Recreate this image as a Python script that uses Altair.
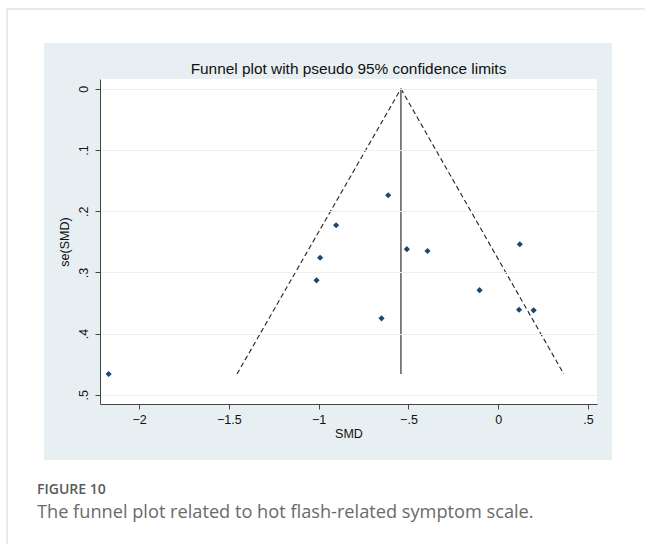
import altair as alt
import pandas as pd

# --- data ---
smd = [-2.170, -0.613, -0.903, -0.992, -1.012, -0.650, -0.509, -0.394, -0.104, 0.120, 0.116, 0.197]
se = [0.466, 0.174, 0.223, 0.276, 0.313, 0.375, 0.262, 0.265, 0.329, 0.254, 0.361, 0.362]

pooled = -0.542
se_max = 0.466
funnel_side = ["L", "L", "R", "R"]
funnel_x = [pooled, -1.455, pooled, 0.365]
funnel_y = [0.0, se_max, 0.0, se_max]

x_ticks = [-2, -1.5, -1, -0.5, 0, 0.5]
y_ticks = [0, 0.1, 0.2, 0.3, 0.4, 0.5]

title_text = "Funnel plot with pseudo 95% confidence limits"
fig_label = "FIGURE 10"
caption = "The funnel plot related to hot flash-related symptom scale."

pts = pd.DataFrame({"smd": smd, "se": se})
fun = pd.DataFrame({"side": funnel_side, "smd": funnel_x, "se": funnel_y})
vline = pd.DataFrame({"smd": [pooled], "se": [0.0], "se2": [se_max]})

W, H = 497, 325
fmt = "datum.value == 0 ? '0' : replace(format(datum.value, '.1~f'), '0.', '.')"

xs = alt.Scale(domain=[-2.218, 0.550], nice=False, zero=False)
ys = alt.Scale(domain=[-0.016, 0.515], nice=False, zero=False, reverse=True)

one = alt.Data(values=[{"a": 1}])
font = "Liberation Sans"

panel = alt.Chart(one).mark_rect(color="#e8eff2").encode(
    x=alt.value(-56), x2=alt.value(512), y=alt.value(-36), y2=alt.value(381))
white = alt.Chart(one).mark_rect(color="white").encode(
    x=alt.value(0), x2=alt.value(W), y=alt.value(0), y2=alt.value(H))
top_border = alt.Chart(one).mark_rule(color="#d4d4d4", strokeWidth=1).encode(
    x=alt.value(-93), x2=alt.value(548), y=alt.value(-70))
left_border = alt.Chart(one).mark_rule(color="#d4d4d4", strokeWidth=1).encode(
    x=alt.value(-93), y=alt.value(-70), y2=alt.value(470))
title = alt.Chart(one).mark_text(
    text=title_text, align="center", baseline="alphabetic", font=font,
    fontSize=15.4, color="#111111").encode(
    x=alt.value(W / 2), y=alt.value(-5))
cap1 = alt.Chart(one).mark_text(
    text=fig_label, align="left", baseline="alphabetic", font="Open Sans",
    fontSize=14, fontWeight=600, color="#5a5a5a").encode(
    x=alt.value(-63), y=alt.value(415))
cap2 = alt.Chart(one).mark_text(
    text=caption, align="left",
    baseline="alphabetic", font="Open Sans", fontSize=18.2, color="#6a6a6a").encode(
    x=alt.value(-63), y=alt.value(439))

axis_common = dict(zindex=1, domainColor="#444444", tickColor="#444444", tickSize=5,
                   labelFont=font, labelFontSize=12.5, labelColor="#111111",
                   titleFont=font, titleFontSize=12.5, titleFontWeight="normal",
                   titleColor="#111111")

funnel = alt.Chart(fun).mark_line(color="#222222", strokeDash=[5, 3], strokeWidth=1.1).encode(
    x=alt.X("smd:Q", scale=xs,
            axis=alt.Axis(values=x_ticks, labelExpr=fmt, title="SMD", grid=False,
                          labelPadding=4, titlePadding=2, **axis_common)),
    y=alt.Y("se:Q", scale=ys,
            axis=alt.Axis(values=y_ticks, labelExpr=fmt, title="se(SMD)", grid=True,
                          gridColor="#eaf1f3", gridWidth=1,
                          labelAngle=270, labelAlign="center", labelBaseline="bottom",
                          labelPadding=5, titlePadding=6, **axis_common)),
    detail="side:N")

vrule = alt.Chart(vline).mark_rule(color="#5a5a5a", strokeWidth=1.5).encode(
    x=alt.X("smd:Q", scale=xs), y=alt.Y("se:Q", scale=ys), y2="se2:Q")

points = alt.Chart(pts).mark_point(shape="diamond", filled=True, size=38,
                                   color="#1a476f", opacity=1).encode(
    x=alt.X("smd:Q", scale=xs), y=alt.Y("se:Q", scale=ys))

chart = alt.layer(panel, white, top_border, left_border, title, cap1, cap2,
                  funnel, vrule, points).properties(
    width=W, height=H,
    autosize=alt.AutoSizeParams(type="none"),
    padding={"left": 100, "top": 79, "right": 48, "bottom": 140},
    background="white",
).configure_view(stroke=None, fill="white")

chart.save("out.html", embed_options={"renderer": "svg", "actions": False})
